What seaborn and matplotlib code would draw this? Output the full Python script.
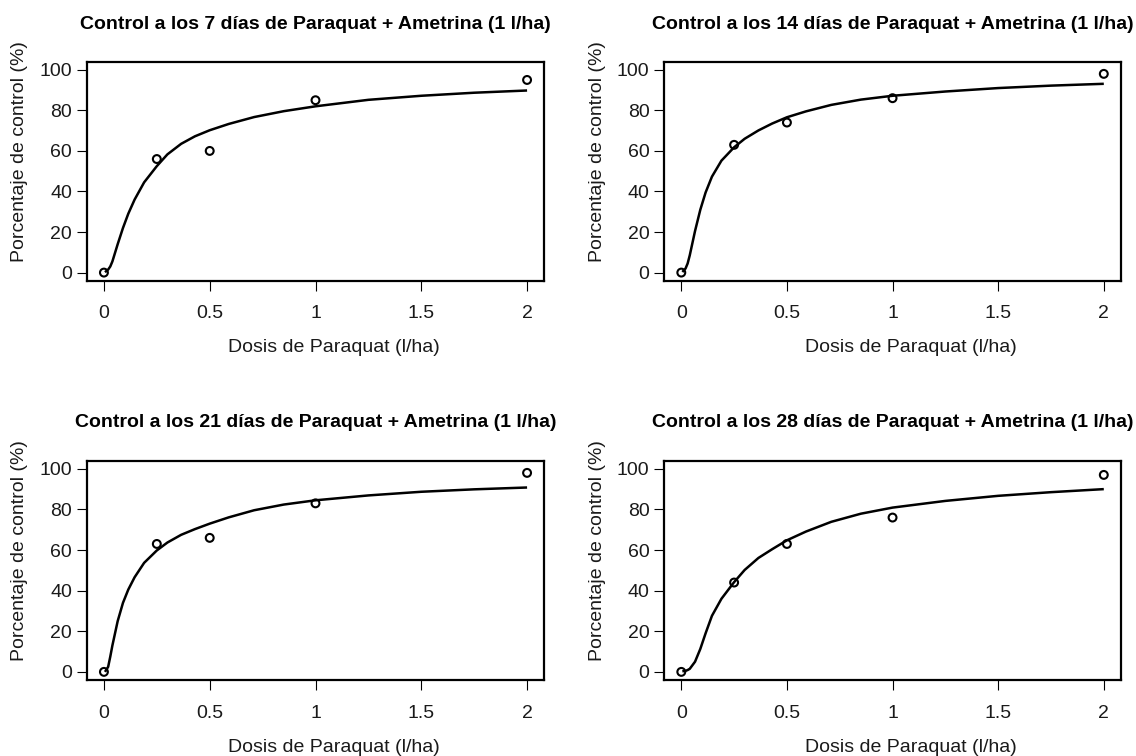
import matplotlib
matplotlib.use("Agg")
import matplotlib.pyplot as plt
import seaborn as sns
import pandas as pd

# ---- data ----
dosis = [0, 0.25, 0.5, 1, 2]
control_7 = [0, 56, 60, 85, 95]
control_14 = [0, 63, 74, 86, 98]
control_21 = [0, 63, 66, 83, 98]
control_28 = [0, 44, 63, 76, 97]

# fitted dose-response curves at these doses
curva_x = [0.005, 0.02, 0.03, 0.04, 0.065, 0.09, 0.115, 0.145, 0.19, 0.25, 0.3,
           0.365, 0.43, 0.5, 0.59, 0.71, 0.85, 1.0, 1.25, 1.5, 1.75, 2.0]
curva_7 = [0.2, 1.5, 3, 5.5, 14, 22, 29, 36, 44.5, 52.5, 58.3,
           63.5, 67.2, 70.2, 73.3, 76.7, 79.6, 82, 85.2, 87.2, 88.7, 89.8]
curva_14 = [0.3, 2, 4.5, 8.5, 20.5, 31, 39.5, 47.3, 55.2, 61.8, 66,
            70.1, 73.5, 76.6, 79.5, 82.7, 85.3, 87.2, 89.3, 91, 92.2, 93.1]
curva_21 = [0, 2.5, 7.5, 13, 25, 34, 40.5, 46.6, 53.7, 59.8, 63.7,
            67.5, 70.3, 73, 76.1, 79.6, 82.4, 84.5, 86.9, 88.7, 89.9, 90.8]
curva_28 = [0.3, 0.5, 0.9, 1.5, 5, 11.3, 19, 27.6, 36, 44.2, 50.2,
            56.1, 60.4, 64.8, 69.1, 73.9, 77.9, 80.9, 84.2, 86.7, 88.5, 90]

dias = ["7", "14", "21", "28"]
x_ticks = [0, 0.5, 1, 1.5, 2]
x_tick_labels = ["0", "0.5", "1", "1.5", "2"]
y_ticks = [0, 20, 40, 60, 80, 100]
x_label = "Dosis de Paraquat (l/ha)"
y_label = "Porcentaje de control (%)"

sns.set_style("white")
plt.rcParams["font.family"] = ["Liberation Sans", "DejaVu Sans"]

W, H = 1136, 756
fig = plt.figure(figsize=(W / 100, H / 100), dpi=100)

# axes boxes in pixels: left, top, right, bottom
boxes = [(87, 61.7, 544, 280.7), (664.4, 61.7, 1120.7, 280.7),
         (87, 460.7, 544, 680), (664.4, 460.7, 1120.7, 680)]
title_off = [37, 37, 38, 38]
puntos = [control_7, control_14, control_21, control_28]
curvas = [curva_7, curva_14, curva_21, curva_28]

for (l, t, r, b), off, pts, cur, d in zip(boxes, title_off, puntos, curvas, dias):
    ax = fig.add_axes([l / W, 1 - b / H, (r - l) / W, (b - t) / H])
    wpx, hpx = r - l, b - t
    df_c = pd.DataFrame({"x": curva_x, "y": cur})
    df_p = pd.DataFrame({"x": dosis, "y": pts})
    sns.lineplot(data=df_c, x="x", y="y", ax=ax, color="black", lw=1.8,
                 sort=False, estimator=None)
    for line in ax.lines:
        line.set_solid_joinstyle("round")
        line.set_solid_capstyle("butt")
    sns.scatterplot(data=df_p, x="x", y="y", ax=ax, marker="o", s=32,
                    facecolors="none", edgecolors="black", linewidths=1.5,
                    zorder=3)
    ax.set_xlim(-0.08, 2.08)
    ax.set_ylim(-4, 104)
    ax.set_xticks(x_ticks)
    ax.set_xticklabels(x_tick_labels)
    ax.set_yticks(y_ticks)
    ax.tick_params(axis="both", which="major", bottom=True, left=True,
                   top=False, right=False, direction="out", length=7.2,
                   width=0.8, color="black", labelsize=14,
                   labelcolor="#1a1a1a")
    ax.tick_params(axis="x", pad=10.5)
    ax.tick_params(axis="y", pad=3.5)
    for s in ax.spines.values():
        s.set_visible(True)
        s.set_color("black")
        s.set_linewidth(1.6)
    ax.set_xlabel(x_label, fontsize=14, color="#1a1a1a")
    ax.set_ylabel(y_label, fontsize=14, color="#1a1a1a")
    ax.xaxis.label.set_va("center")
    ax.yaxis.label.set_va("center")
    ax.xaxis.set_label_coords(0.541, -67 / hpx)
    ax.yaxis.set_label_coords(-67 / wpx, 0.59)
    ax.text(0.5, 1 + off / hpx,
            f"Control a los {d} días de Paraquat + Ametrina (1 l/ha)",
            transform=ax.transAxes, ha="center", va="center",
            fontsize=14, fontweight="bold", color="black")

fig.savefig("out.png", dpi=100, facecolor="white")
